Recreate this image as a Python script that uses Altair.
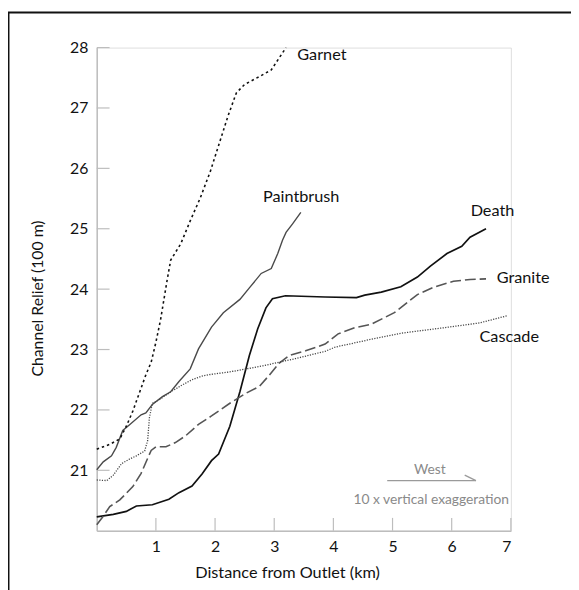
import altair as alt
import pandas as pd

# ---- data ----
garnet_km = [0, 0.22, 0.39, 0.5, 0.61, 0.72, 0.83, 0.92, 1.0, 1.08, 1.19, 1.25, 1.42, 1.58,
             1.75, 1.92, 2.06, 2.22, 2.36, 2.5, 2.75, 2.95, 3.2]
garnet_v = [21.35, 21.43, 21.52, 21.73, 21.98, 22.28, 22.58, 22.79, 23.12, 23.5, 24.15, 24.48,
            24.75, 25.13, 25.51, 25.95, 26.38, 26.87, 27.25, 27.39, 27.52, 27.63, 28.0]

paint_km = [0, 0.11, 0.25, 0.33, 0.44, 0.56, 0.75, 0.83, 0.94, 1.11, 1.25, 1.39, 1.58, 1.72,
            1.94, 2.14, 2.42, 2.58, 2.78, 2.95, 3.06, 3.14, 3.2, 3.31, 3.45]
paint_v = [21.01, 21.14, 21.24, 21.38, 21.66, 21.76, 21.92, 21.95, 22.09, 22.22, 22.30, 22.47,
           22.68, 23.01, 23.37, 23.61, 23.83, 24.02, 24.26, 24.34, 24.59, 24.81, 24.94, 25.08, 25.27]

cascade_km = [0, 0.17, 0.28, 0.42, 0.56, 0.67, 0.81, 0.86, 0.89, 0.94, 1.06, 1.25, 1.44, 1.61,
              1.78, 1.94, 2.25, 2.81, 3.36, 3.86, 4.03, 4.64, 5.14, 5.86, 6.47, 6.94]
cascade_v = [20.84, 20.83, 20.92, 21.11, 21.19, 21.24, 21.32, 21.49, 21.87, 22.11, 22.17, 22.30,
             22.41, 22.50, 22.56, 22.59, 22.63, 22.73, 22.85, 22.97, 23.04, 23.17, 23.27, 23.36,
             23.44, 23.56]

granite_km = [0, 0.11, 0.22, 0.39, 0.61, 0.75, 0.83, 0.92, 1.0, 1.17, 1.33, 1.5, 1.72, 1.94,
              2.25, 2.53, 2.75, 2.92, 3.08, 3.25, 3.53, 3.86, 4.08, 4.36, 4.64, 5.03, 5.42, 5.69,
              6.03, 6.31, 6.58]
granite_v = [20.10, 20.24, 20.40, 20.51, 20.73, 20.95, 21.13, 21.33, 21.39, 21.39, 21.46, 21.57,
             21.76, 21.90, 22.11, 22.28, 22.39, 22.58, 22.77, 22.90, 22.98, 23.09, 23.26, 23.36,
             23.42, 23.61, 23.91, 24.03, 24.13, 24.16, 24.17]

death_km = [0, 0.28, 0.5, 0.67, 0.94, 1.22, 1.39, 1.61, 1.78, 1.94, 2.06, 2.25, 2.42, 2.58,
            2.72, 2.86, 2.97, 3.19, 3.86, 4.39, 4.53, 4.81, 5.14, 5.42, 5.64, 5.92, 6.17, 6.31, 6.58]
death_v = [20.23, 20.27, 20.32, 20.41, 20.43, 20.52, 20.63, 20.74, 20.94, 21.16, 21.27, 21.73,
           22.30, 22.90, 23.34, 23.69, 23.84, 23.89, 23.87, 23.86, 23.90, 23.95, 24.04, 24.20,
           24.38, 24.59, 24.71, 24.86, 25.00]

label_names = ["Garnet", "Paintbrush", "Death", "Granite", "Cascade"]
label_km = [3.39, 2.81, 6.32, 6.76, 6.47]
label_v = [27.88, 25.53, 25.30, 24.18, 23.20]

x_ticks = [1, 2, 3, 4, 5, 6, 7]
y_ticks = [21, 22, 23, 24, 25, 26, 27, 28]

FONT = "Lato"
W, H = 420, 490

X = alt.X("km:Q", scale=alt.Scale(domain=[0, 7], nice=False),
          axis=alt.Axis(values=x_ticks, format="d", ticks=False, tickSize=0, grid=False,
                        domainColor="#bdbdbd", domainWidth=1.5,
                        labelFont=FONT, labelFontSize=16, labelColor="#111",
                        labelPadding=8,
                        title="Distance from Outlet (km)", titleFont=FONT,
                        titleFontSize=16.5, titleFontWeight="normal", titleColor="#111",
                        titleX=193, titleY=42, titleAlign="center",
                        titleBaseline="middle"))
Y = alt.Y("v:Q", scale=alt.Scale(domain=[20, 28], nice=False, zero=False),
          axis=alt.Axis(values=y_ticks, format="d", ticks=False, tickSize=0, grid=False,
                        domainColor="#bdbdbd", domainWidth=1.5,
                        labelFont=FONT, labelFontSize=16, labelColor="#111",
                        labelPadding=9,
                        title="Channel Relief (100 m)", titleFont=FONT,
                        titleFontSize=16, titleFontWeight="normal", titleColor="#111",
                        titleX=-60, titleY=254, titleAlign="center",
                        titleBaseline="middle"))

def series(km, v):
    return pd.DataFrame({"km": km, "v": v, "o": list(range(len(km)))})

styles = [
    (death_km, death_v, dict(color="#111111", strokeWidth=1.7)),
    (paint_km, paint_v, dict(color="#4a4a4a", strokeWidth=1.4)),
    (granite_km, granite_v, dict(color="#555555", strokeWidth=1.6, strokeDash=[11, 4])),
    (cascade_km, cascade_v, dict(color="#444444", strokeWidth=1.3, strokeDash=[1.2, 1.4])),
    (garnet_km, garnet_v, dict(color="#111111", strokeWidth=1.6, strokeDash=[2.5, 3])),
]

layers = []

# inward tick marks
yt = pd.DataFrame({"v": y_ticks})
layers.append(alt.Chart(yt).mark_rule(color="#bdbdbd", strokeWidth=1.2).encode(
    y="v:Q", x=alt.value(0), x2=alt.value(13)))
xt = pd.DataFrame({"km": x_ticks})
layers.append(alt.Chart(xt).mark_rule(color="#bdbdbd", strokeWidth=1.2).encode(
    x="km:Q", y=alt.value(H - 13), y2=alt.value(H)))

first = True
for km, v, st in styles:
    c = alt.Chart(series(km, v)).mark_line(**st).encode(
        x=X if first else alt.X("km:Q"),
        y=Y if first else alt.Y("v:Q"),
        order="o:Q")
    first = False
    layers.append(c)

lab = pd.DataFrame({"name": label_names, "km": label_km, "v": label_v})
layers.append(alt.Chart(lab).mark_text(align="left", baseline="middle", font=FONT,
                                       fontSize=16.5, color="#111").encode(
    x="km:Q", y="v:Q", text="name:N"))

# West arrow and note
ann_text = pd.DataFrame({"km": [5.63], "v": [21.0], "t": ["West"]})
layers.append(alt.Chart(ann_text).mark_text(align="center", baseline="middle", font=FONT,
                                            fontSize=14, color="#8a8a8a").encode(
    x="km:Q", y="v:Q", text="t:N"))
arrow = pd.DataFrame({"km": [4.91], "km2": [6.41], "v": [20.83], "v2": [20.83]})
layers.append(alt.Chart(arrow).mark_rule(color="#9a9a9a", strokeWidth=1.3).encode(
    x="km:Q", x2="km2:Q", y="v:Q", y2="v2:Q"))
head = pd.DataFrame({"km": [6.22], "km2": [6.41], "v": [20.92], "v2": [20.83]})
layers.append(alt.Chart(head).mark_rule(color="#9a9a9a", strokeWidth=1.3).encode(
    x="km:Q", x2="km2:Q", y="v:Q", y2="v2:Q"))
note = pd.DataFrame({"km": [6.97], "v": [20.5], "t": ["10 x vertical exaggeration"]})
layers.append(alt.Chart(note).mark_text(align="right", baseline="middle", font=FONT,
                                        fontSize=14, color="#8a8a8a").encode(
    x="km:Q", y="v:Q", text="t:N"))

# frame lines (top and left)
layers.append(alt.Chart(pd.DataFrame({"a": [0]})).mark_rule(color="#111", strokeWidth=2).encode(
    x=alt.value(-90), x2=alt.value(W + 200), y=alt.value(-35.5)))
layers.append(alt.Chart(pd.DataFrame({"a": [0]})).mark_rule(color="#111", strokeWidth=2).encode(
    x=alt.value(-89.5), y=alt.value(-36), y2=alt.value(H + 200)))

chart = alt.layer(*layers).properties(
    width=W, height=H,
    autosize=alt.AutoSizeParams(type="none"),
    padding={"left": 90, "top": 36, "right": 61, "bottom": 56},
).configure_view(stroke=None).configure(background="white")

chart.save("out.html", embed_options={"renderer": "svg", "actions": False})
